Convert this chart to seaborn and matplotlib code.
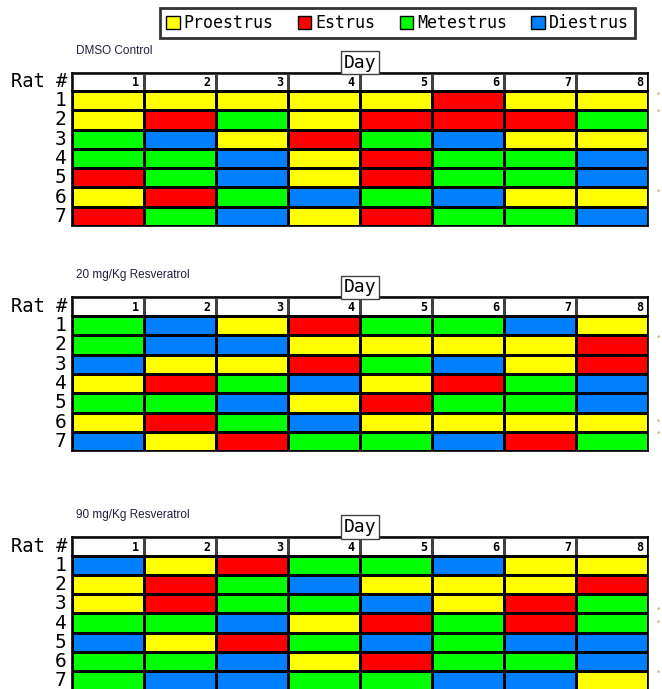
import numpy as np
import matplotlib
matplotlib.use("Agg")
import matplotlib.pyplot as plt
import seaborn as sns
from matplotlib.colors import ListedColormap
from matplotlib.patches import Patch

# stage order: 0 Proestrus, 1 Estrus, 2 Metestrus, 3 Diestrus
stages = ["Proestrus", "Estrus", "Metestrus", "Diestrus"]
stage_colors = ["#ffff00", "#ff0000", "#00ff00", "#0080ff"]
days = ["1", "2", "3", "4", "5", "6", "7", "8"]
rats = ["1", "2", "3", "4", "5", "6", "7"]

dmso = [
    [0, 0, 0, 0, 0, 1, 0, 0],
    [0, 1, 2, 0, 1, 1, 1, 2],
    [2, 3, 0, 1, 2, 3, 0, 0],
    [2, 2, 3, 0, 1, 2, 2, 3],
    [1, 2, 3, 0, 1, 2, 2, 3],
    [0, 1, 2, 3, 2, 3, 0, 0],
    [1, 2, 3, 0, 1, 2, 2, 3],
]
res20 = [
    [2, 3, 0, 1, 2, 2, 3, 0],
    [2, 3, 3, 0, 0, 0, 0, 1],
    [3, 0, 0, 1, 2, 3, 0, 1],
    [0, 1, 2, 3, 0, 1, 2, 3],
    [2, 2, 3, 0, 1, 2, 2, 3],
    [0, 1, 2, 3, 0, 0, 0, 0],
    [3, 0, 1, 2, 2, 3, 1, 2],
]
res90 = [
    [3, 0, 1, 2, 2, 3, 0, 0],
    [0, 1, 2, 3, 0, 0, 0, 1],
    [0, 1, 2, 2, 3, 0, 1, 2],
    [2, 2, 3, 0, 1, 2, 1, 2],
    [3, 0, 1, 2, 3, 2, 3, 3],
    [2, 2, 3, 0, 1, 2, 2, 3],
    [2, 3, 3, 2, 2, 3, 3, 0],
]
titles = ["DMSO Control", "20 mg/Kg Resveratrol", "90 mg/Kg Resveratrol"]
# small marks at the right edge (row position, in row units from top)
stars = [[0.2, 1.05, 5.2], [1.15, 5.5, 6.1], [2.8, 3.5, 6.05]]

W, H = 662, 689
mono = "DejaVu Sans Mono"
cmap = ListedColormap(stage_colors)

fig = plt.figure(figsize=(W / 100, H / 100), dpi=100)


def fx(px):
    return px / W


def fy(py):
    return 1 - py / H


def draw_block(data, title, star_rows, top):
    # top = pixel y of the header row's top edge
    left, right = 72, 648
    head_h = 18.5
    row_h = 19.3
    grid_top = top + head_h

    # header row with day numbers
    hax = fig.add_axes([fx(left), fy(grid_top), fx(right - left), head_h / H])
    sns.heatmap(np.zeros((1, 8)), cmap=ListedColormap(["white"]), cbar=False,
                linewidths=1, linecolor="#404040", ax=hax,
                xticklabels=False, yticklabels=False)
    for i, d in enumerate(days):
        hax.text(i + 0.93, 0.55, d, ha="right", va="center",
                 fontsize=8.5, fontweight="bold", family=mono)
    hax.text(-0.07, 0.5, "Rat #", ha="right", va="center", fontsize=13.5,
             family=mono)
    for s in hax.spines.values():
        s.set_visible(True)
        s.set_color("black")
        s.set_linewidth(1.2)

    # stage grid
    ax = fig.add_axes([fx(left), fy(grid_top + 7 * row_h),
                       fx(right - left), 7 * row_h / H])
    sns.heatmap(np.array(data), cmap=cmap, vmin=-0.5, vmax=3.5, cbar=False,
                linewidths=1, linecolor="black", ax=ax,
                xticklabels=False, yticklabels=rats)
    ax.set_yticklabels(rats, rotation=0, fontsize=14, family=mono)
    ax.tick_params(axis="y", length=0, pad=4)
    for s in ax.spines.values():
        s.set_visible(True)
        s.set_color("black")
        s.set_linewidth(1.2)
    for r in star_rows:
        ax.text(8 + 11 / 72, r, "*", fontsize=5, color="#c8823c",
                ha="center", va="center", clip_on=False)

    # "Day" box
    fig.text(fx(360), fy(top - 10), "Day", ha="center", va="center",
             fontsize=13, family=mono,
             bbox=dict(boxstyle="square,pad=0.15", facecolor="white",
                       edgecolor="#404040", linewidth=1))
    fig.text(fx(76), fy(top - 22), title, ha="left", va="center",
             fontsize=8.5, family="Liberation Sans", color="#202040")


draw_block(dmso, titles[0], stars[0], 72.5)
draw_block(res20, titles[1], stars[1], 297.5)
draw_block(res90, titles[2], stars[2], 537)

handles = [Patch(facecolor=c, edgecolor="black", linewidth=1) for c in stage_colors]
leg = fig.legend(handles, stages, loc="center", bbox_to_anchor=(fx(397.5), fy(23)),
                 ncol=4, frameon=True, fancybox=False, edgecolor="black",
                 handlelength=0.8, handleheight=0.8, handletextpad=0.25,
                 columnspacing=1.45, borderpad=0.38,
                 prop={"family": mono, "size": 12})
leg.get_frame().set_linewidth(2)

fig.savefig("out.png", dpi=100)
